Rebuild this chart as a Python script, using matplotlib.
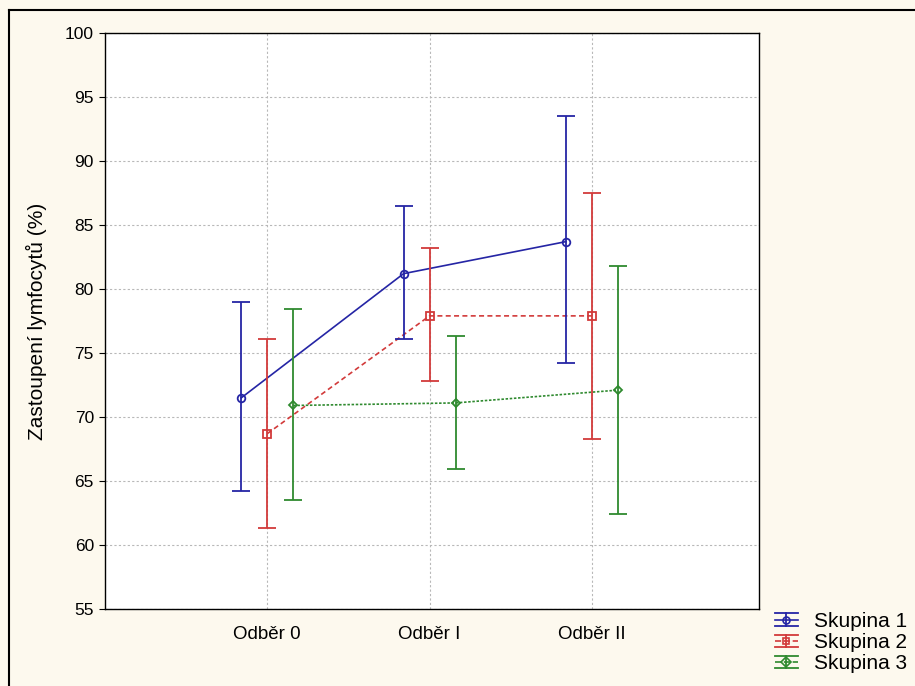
"""
Zastoupení lymfocytů po skupinách a odběrech (průměr s intervalem)
"""

import matplotlib.pyplot as plt
import numpy as np
from matplotlib.lines import Line2D
from matplotlib.legend_handler import HandlerBase

# ==================== Data ====================

odbery = ["Odběr 0", "Odběr I", "Odběr II"]
skupiny = ["Skupina 1", "Skupina 2", "Skupina 3"]

# průměry
prumer_1 = [71.5, 81.2, 83.7]
prumer_2 = [68.7, 77.9, 77.9]
prumer_3 = [70.9, 71.1, 72.1]

# horní a dolní mez intervalu
horni_1 = [79.0, 86.5, 93.5]
dolni_1 = [64.2, 76.1, 74.2]
horni_2 = [76.1, 83.2, 87.5]
dolni_2 = [61.3, 72.8, 68.3]
horni_3 = [78.4, 76.3, 81.8]
dolni_3 = [63.5, 65.9, 62.4]

y_ticks = [55, 60, 65, 70, 75, 80, 85, 90, 95, 100]


# ==================== Helper ====================

class HandlerErrBox(HandlerBase):
    """Legend symbol: line with marker, caps drawn as horizontal lines"""
    def create_artists(self, legend, orig_handle, xdescent, ydescent,
                       width, height, fontsize, trans):
        col = orig_handle.get_color()
        cy = height / 2 - ydescent
        x0, x1 = -xdescent, width - xdescent
        xm = (x0 + x1) / 2
        d = 0.3 * fontsize
        arts = [
            Line2D([x0, x1], [cy + d, cy + d], color=col, lw=1.3),
            Line2D([x0, x1], [cy - d, cy - d], color=col, lw=1.3),
            Line2D([x0, x1], [cy, cy], color=col, lw=1.2,
                   linestyle=orig_handle.get_linestyle()),
            Line2D([xm, xm], [cy - d, cy + d], color=col, lw=1.3),
            Line2D([xm], [cy], color=col, marker=orig_handle.get_marker(),
                   markerfacecolor="none", markeredgecolor=col,
                   markersize=5, markeredgewidth=1.2, linestyle="none"),
        ]
        for a in arts:
            a.set_transform(trans)
        return arts


# ==================== Plot ====================

bg = "#fdf9ee"
fig = plt.figure(figsize=(9.15, 6.86), dpi=100, facecolor=bg)
plt.rcParams['font.family'] = ['Liberation Sans', 'DejaVu Sans']

ax = fig.add_axes([105 / 915, 1 - 609 / 686, (759 - 105) / 915, (609 - 33) / 686])
ax.set_facecolor("white")

x = np.arange(len(odbery))
styles = [
    (prumer_1, horni_1, dolni_1, "#2525a5", "o", "-", -0.16),
    (prumer_2, horni_2, dolni_2, "#d23a3a", "s", (0, (3, 2)), 0.0),
    (prumer_3, horni_3, dolni_3, "#2f8a2f", "D", (0, (1.5, 1)), 0.16),
]

handles = []
for (m, hi, lo, col, mk, ls, off), name in zip(styles, skupiny):
    m = np.array(m)
    err = [m - np.array(lo), np.array(hi) - m]
    xs = x + off
    # spojnice průměrů
    ax.plot(xs, m, color=col, linestyle=ls, linewidth=1.2, zorder=3)
    ax.errorbar(xs, m, yerr=err, fmt=mk, color=col, ecolor=col,
                markerfacecolor="none", markeredgecolor=col,
                markersize=5.5 if mk != "D" else 4.5, markeredgewidth=1.3,
                elinewidth=1.3, capsize=6.3, capthick=1.3, zorder=4)
    handles.append(Line2D([], [], color=col, marker=mk, linestyle=ls))

ax.set_xlim(-1, 3.03)
ax.set_ylim(55, 100)
ax.set_xticks(x)
ax.set_xticklabels(odbery, fontsize=13.5)
ax.set_yticks(y_ticks)
ax.tick_params(axis="y", labelsize=12.5, length=4, direction="out", pad=4)
ax.tick_params(axis="x", length=0, pad=12)
ax.set_ylabel("Zastoupení lymfocytů (%)", fontsize=15, labelpad=13)
ax.grid(True, color="#b8b8b8", linestyle=(0, (2, 2)), linewidth=0.8)
ax.set_axisbelow(True)
for sp in ax.spines.values():
    sp.set_color("black")
    sp.set_linewidth(1.0)

fig.legend(handles=handles, labels=skupiny, loc="upper left",
           bbox_to_anchor=(775 / 915, 1 - 612 / 686), frameon=False,
           fontsize=15, handlelength=1.1, handletextpad=0.75,
           labelspacing=0.1, borderpad=0, borderaxespad=0,
           handler_map={Line2D: HandlerErrBox()})

# vnější rámeček (vidět jen horní a levá hrana)
fig.add_artist(Line2D([9 / 915, 1.0], [1 - 10 / 686, 1 - 10 / 686],
                      transform=fig.transFigure, color="black", linewidth=1.5))
fig.add_artist(Line2D([9 / 915, 9 / 915], [0.0, 1 - 10 / 686],
                      transform=fig.transFigure, color="black", linewidth=1.5))

fig.savefig("out.png", dpi=100, facecolor=bg)
